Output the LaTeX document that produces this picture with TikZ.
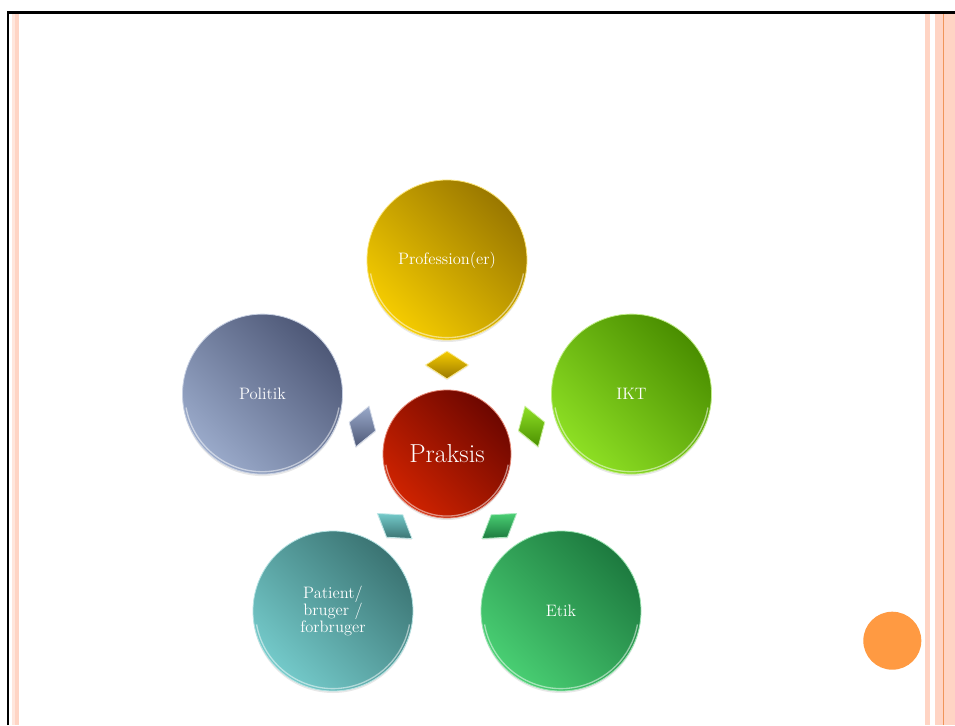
\documentclass[tikz,border=0pt]{standalone}
\usetikzlibrary{shapes.geometric,shadows}
\definecolor{golddark}{HTML}{9A7800}
\definecolor{goldlight}{HTML}{F5CC00}
\definecolor{iktdark}{HTML}{4A8E00}
\definecolor{iktlight}{HTML}{8EE024}
\definecolor{etikdark}{HTML}{1D7A3F}
\definecolor{etiklight}{HTML}{49CF73}
\definecolor{patdark}{HTML}{3B7473}
\definecolor{patlight}{HTML}{74CACA}
\definecolor{poldark}{HTML}{4E5877}
\definecolor{pollight}{HTML}{9AAACA}
\definecolor{prakdark}{HTML}{6E0700}
\definecolor{praklight}{HTML}{CF2300}
\definecolor{pinkstripe}{HTML}{FFD4C4}
\definecolor{palepink}{HTML}{FFE6DC}
\definecolor{orangeline}{HTML}{F0955A}
\definecolor{orangedot}{HTML}{FF9A42}
\tikzset{
  ball/.style={circle, inner sep=0pt, text=white, align=center,
    top color=#1dark, bottom color=#1light, shading angle=-45,
    draw=#1light!55!white, line width=0.6pt,
    drop shadow={opacity=0.18, shadow xshift=0pt, shadow yshift=-1.5pt},
    path picture={\draw[white, opacity=0.5, line width=1pt]
      (path picture bounding box.center) ++(190:0.485*\pgfkeysvalueof{/pgf/minimum width})
      arc[start angle=190, end angle=350, radius=0.485*\pgfkeysvalueof{/pgf/minimum width}];}},
  petal/.style={ball=#1, minimum size=120pt, font=\fontsize{12.4}{11.3}\selectfont},
  gem/.style={diamond, inner sep=0pt, minimum width=32.25pt, minimum height=21pt,
    top color=#1light, bottom color=#1dark, shading angle=0,
    draw=#1light!45!white, line width=0.6pt,
    drop shadow={opacity=0.15, shadow xshift=0pt, shadow yshift=-1pt}},
}
\begin{document}
\begin{tikzpicture}[x=0.75pt, y=0.75pt]
\useasboundingbox (0,0) rectangle (955,725);
\fill[white] (0,0) rectangle (955,725);
% page decorations
\fill[palepink] (12,0) rectangle (14.5,712);
\fill[pinkstripe] (15,0) rectangle (18.5,712);
\fill[pinkstripe] (925,0) rectangle (929.5,712);
\fill[pinkstripe] (935,0) rectangle (955,712);
\draw[orangeline, line width=0.75pt] (943.3,0) -- (943.3,712);
\draw[black, line width=2pt] (8,0) -- (8,712.5) -- (955,712.5);
% centre
\node[ball=prak, minimum size=96pt, font=\fontsize{19.5}{22}\selectfont] (prak) at (447,271) {Praksis};
% petals
\node[petal=gold] (prof) at (447,465) {Profession(er)};
\node[petal=ikt] (ikt) at (631.5,330.9) {IKT};
\node[petal=etik] (etik) at (561,114) {Etik};
\node[petal=pat] (pat) at (333,114) {Patient/\\bruger /\\forbruger};
\node[petal=pol] (pol) at (262.5,330.9) {Politik};
% diamonds
\node[gem=gold] (gprof) at (447,360) {};
\node[gem=ikt, rotate=-72] (gikt) at (531.6,298.5) {};
\node[gem=etik, rotate=36] (getik) at (499.3,199) {};
\node[gem=pat, rotate=-36] (gpat) at (394.7,199) {};
\node[gem=pol, rotate=72] (gpol) at (362.4,298.5) {};
% orange dot
\node[circle, fill=orangedot, minimum size=43.5pt, inner sep=0pt] (dot) at (892.3,84.3) {};
\end{tikzpicture}
\end{document}
